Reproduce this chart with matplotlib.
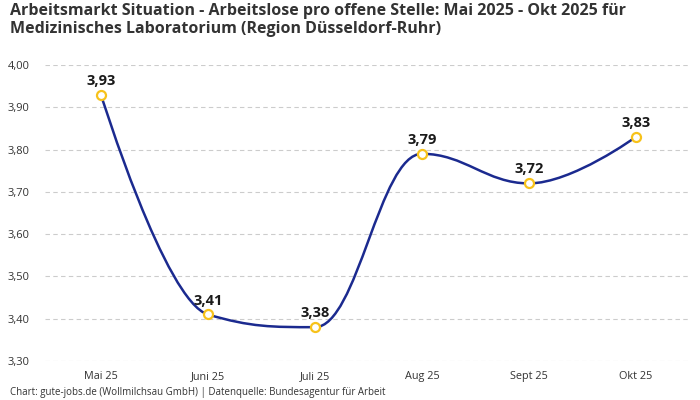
import matplotlib
matplotlib.use("Agg")
import matplotlib.pyplot as plt
from matplotlib.path import Path
from matplotlib.patches import PathPatch
import numpy as np

categories = ["Mai 25", "Juni 25", "Juli 25", "Aug 25", "Sept 25", "Okt 25"]
values = [3.93, 3.41, 3.38, 3.79, 3.72, 3.83]
yticks = [3.30, 3.40, 3.50, 3.60, 3.70, 3.80, 3.90, 4.00]

plt.rcParams['font.family'] = ['Open Sans', 'DejaVu Sans']

fig = plt.figure(figsize=(7, 4), dpi=100)
ax = fig.add_axes([45/700, 1-361/400, 645/700, (361-65)/400])
ax.set_xlim(-0.523, 5.505)
ax.set_ylim(3.30, 4.00)

for s in ax.spines.values():
    s.set_visible(False)
ax.set_yticks(yticks)
ax.set_yticklabels([f"{v:.2f}".replace(".", ",") for v in yticks], fontsize=8, color="#333333")
ax.set_xticks(range(len(categories)))
ax.set_xticklabels(categories, fontsize=7.8, color="#333333")
ax.tick_params(length=0, pad=7)
ax.tick_params(axis='y', pad=11)
ax.yaxis.grid(True, linestyle=(0, (4, 3)), color="#cccccc", linewidth=0.8)
ax.set_axisbelow(True)

# Highcharts-style spline (smoothing 1.5)
x = np.arange(len(values), dtype=float)
y = np.array(values, dtype=float)
n = len(values)
sm, den = 1.5, 2.5
lc = [(x[i], y[i]) for i in range(n)]
rc = [(x[i], y[i]) for i in range(n)]
for i in range(1, n - 1):
    lx = (sm * x[i] + x[i - 1]) / den
    ly = (sm * y[i] + y[i - 1]) / den
    rx = (sm * x[i] + x[i + 1]) / den
    ry = (sm * y[i] + y[i + 1]) / den
    corr = (ry - ly) * (rx - x[i]) / (rx - lx) + y[i] - ry
    ly += corr
    ry += corr
    if ly > y[i - 1] and ly > y[i]:
        ly = max(y[i - 1], y[i]); ry = 2 * y[i] - ly
    elif ly < y[i - 1] and ly < y[i]:
        ly = min(y[i - 1], y[i]); ry = 2 * y[i] - ly
    if ry > y[i + 1] and ry > y[i]:
        ry = max(y[i + 1], y[i]); ly = 2 * y[i] - ry
    elif ry < y[i + 1] and ry < y[i]:
        ry = min(y[i + 1], y[i]); ly = 2 * y[i] - ry
    lc[i] = (lx, ly)
    rc[i] = (rx, ry)
verts = [(x[0], y[0])]
codes = [Path.MOVETO]
for i in range(n - 1):
    verts += [rc[i], lc[i + 1], (x[i + 1], y[i + 1])]
    codes += [Path.CURVE4] * 3
ax.add_patch(PathPatch(Path(verts, codes), facecolor="none", edgecolor="#1b2a8f", linewidth=1.8, zorder=3))

ax.plot(x, y, linestyle="none", marker="o", markersize=6.5, markerfacecolor="white",
        markeredgecolor="#f7c21b", markeredgewidth=1.6, zorder=4)
for xi, yi in zip(x, y):
    ax.annotate(f"{yi:.2f}".replace(".", ","), (xi, yi), xytext=(0, 5), textcoords="offset points",
                ha="center", va="bottom", fontsize=10.5, fontweight="bold", color="#1a1a1a", zorder=5)

fig.text(10/700, 1-3/400, "Arbeitsmarkt Situation - Arbeitslose pro offene Stelle: Mai 2025 - Okt 2025 für\nMedizinisches Laboratorium (Region Düsseldorf-Ruhr)",
         ha="left", va="top", fontsize=11.5, fontweight="bold", color="#333333", linespacing=1.15)
fig.text(10/700, 1-393/400, "Chart: gute-jobs.de (Wollmilchsau GmbH) | Datenquelle: Bundesagentur für Arbeit",
         ha="left", va="center", fontsize=7, color="#333333")

fig.savefig("out.png", dpi=100)
